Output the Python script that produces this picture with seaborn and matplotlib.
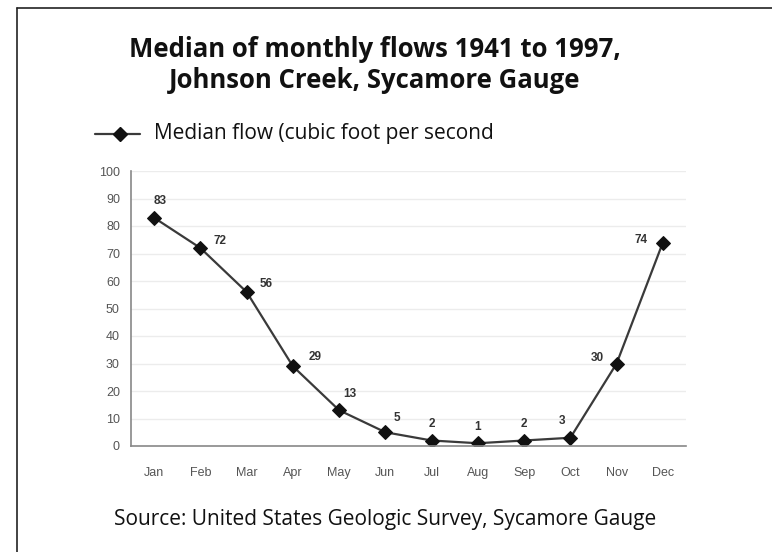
import matplotlib
matplotlib.use("Agg")
import matplotlib.pyplot as plt
from matplotlib.lines import Line2D
from matplotlib.ticker import FixedLocator
import seaborn as sns
import pandas as pd
import numpy as np

months = ["Jan", "Feb", "Mar", "Apr", "May", "Jun",
          "Jul", "Aug", "Sep", "Oct", "Nov", "Dec"]
median_flow = [83, 72, 56, 29, 13, 5, 2, 1, 2, 3, 30, 74]
y_ticks = [0, 10, 20, 30, 40, 50, 60, 70, 80, 90, 100]

# label offsets in points (dx, dy) for each month's value
label_offsets = [(4, 12), (14, 5), (14, 6), (16, 7), (8, 12), (8, 10),
                 (0, 12), (0, 12), (0, 12), (-6, 12), (-14, 4), (-16, 2)]

df = pd.DataFrame({"month": months, "flow": median_flow,
                   "pos": np.arange(len(months))})

sns.set_theme(style="white")
plt.rcParams["font.family"] = ["Liberation Sans", "DejaVu Sans"]

W, H = 772, 552
fig = plt.figure(figsize=(W / 100, H / 100), dpi=100)
ax = fig.add_axes([131 / W, 1 - 446 / H, (686 - 131) / W, (446 - 171) / H])

for y in y_ticks[1:]:
    ax.axhline(y, color="#ececec", lw=1.0, zorder=0)

sns.lineplot(data=df, x="pos", y="flow", ax=ax, color="#3a3a3a", lw=1.6,
             marker="D", markersize=7, markerfacecolor="#111111",
             markeredgecolor="#111111", legend=False)

for i, v in enumerate(median_flow):
    dx, dy = label_offsets[i]
    ax.annotate(str(v), (i, v), xytext=(dx, dy), textcoords="offset points",
                ha="center", va="center", fontsize=8.5, fontweight="bold",
                color="#333333")

ax.set_xlim(-0.5, len(months) - 0.5)
ax.set_ylim(0, 100)
ax.set_xticks(df["pos"])
ax.set_xticklabels(months)
ax.xaxis.set_minor_locator(FixedLocator(np.arange(-0.5, len(months), 1.0)))
ax.tick_params(axis="x", which="major", length=0, pad=15, labelsize=9, labelcolor="#555555")
ax.tick_params(axis="x", which="minor", length=4, width=1, color="#888888", direction="inout")
ax.set_yticks(y_ticks)
ax.tick_params(axis="y", which="major", length=4, width=1, color="#888888",
               direction="out", labelsize=9, labelcolor="#555555", pad=4)
ax.set_xlabel("")
ax.set_ylabel("")
for side in ["top", "right"]:
    ax.spines[side].set_visible(False)
for side in ["left", "bottom"]:
    ax.spines[side].set_color("#888888")
    ax.spines[side].set_linewidth(1.2)

# legend drawn above the plot
lx0, lx1, ly = 95 / W, 140 / W, 1 - 134 / H
fig.add_artist(Line2D([lx0, lx1], [ly, ly], color="#3a3a3a", lw=1.6,
                      transform=fig.transFigure))
fig.add_artist(Line2D([120 / W], [ly], marker="D", markersize=7,
                      color="#111111", transform=fig.transFigure))
fig.text(154 / W, ly, "Median flow (cubic foot per second", fontsize=15,
         va="center", ha="left", color="#111111", family=["Open Sans", "DejaVu Sans"])

fig.text(375 / W, 1 - 65 / H,
         "Median of monthly flows 1941 to 1997,\nJohnson Creek, Sycamore Gauge",
         ha="center", va="center", fontsize=18.5, fontweight="bold",
         linespacing=1.2, color="#111111", family=["Open Sans", "DejaVu Sans"])

fig.text(385 / W, 1 - 519 / H,
         "Source: United States Geologic Survey, Sycamore Gauge",
         ha="center", va="center", fontsize=15, color="#111111",
         family=["Open Sans", "DejaVu Sans"])

# outer frame (left and top edges)
fig.add_artist(Line2D([17 / W, 17 / W], [0, 1 - 8 / H], color="#222222",
                      lw=1.2, transform=fig.transFigure))
fig.add_artist(Line2D([17 / W, 1], [1 - 8 / H, 1 - 8 / H], color="#222222",
                      lw=1.2, transform=fig.transFigure))

fig.savefig("out.png", dpi=100)
